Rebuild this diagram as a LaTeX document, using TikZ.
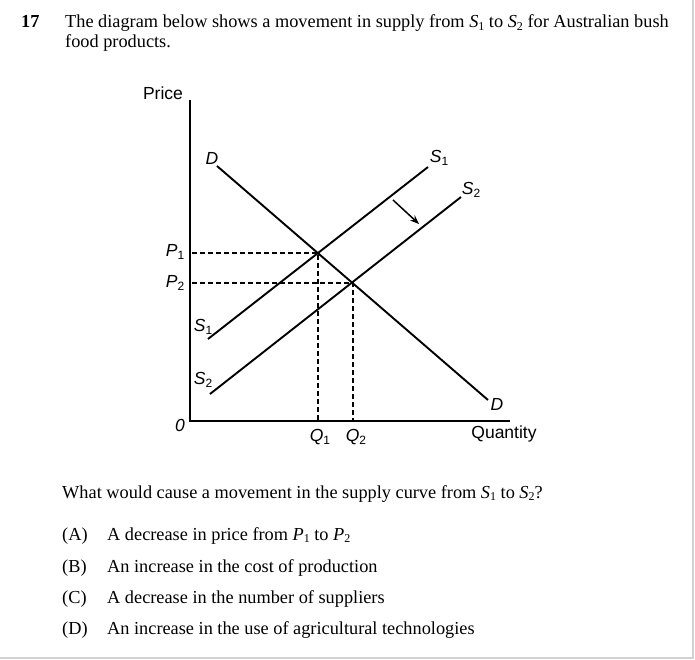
\documentclass[tikz,border=0pt]{standalone}
\usepackage{fontspec}
\setmainfont{Liberation Serif}
\setsansfont{Liberation Sans}
\usetikzlibrary{arrows.meta}
\newcommand\sub[1]{\raisebox{-0.3ex}{\fontsize{12}{12}\selectfont #1}}
\newcommand\tsub[1]{\raisebox{-0.25ex}{\fontsize{12}{12}\selectfont #1}}
\begin{document}
\begin{tikzpicture}[x=1pt,y=-1pt,
  txt/.style={font=\fontsize{18.3}{20}\selectfont,inner sep=0pt,anchor=base west},
  lab/.style={font=\sffamily\fontsize{17.5}{18}\selectfont,inner sep=0pt},
  curve/.style={line width=1.9pt},
  axis/.style={line width=2.2pt},
  guide/.style={line width=1.6pt,dash pattern=on 5pt off 3pt}]
\useasboundingbox (0,0) rectangle (695,660);
\draw[gray!35,line width=1.5pt] (693,0) -- (693,658) -- (0,658);
% header text
\node[txt,font=\bfseries\fontsize{18.3}{20}\selectfont] (num) at (21,28) {17};
\node[txt] (l1) at (65,28) {The diagram below shows a movement in supply from \textit{S}\tsub{1} to \textit{S}\tsub{2} for Australian bush};
\node[txt] (l2) at (65,48) {food products.};
% axes
\coordinate (top) at (190,100);
\coordinate (org) at (190,421);
\coordinate (xend) at (510,421);
\draw[axis] (top) -- (org) -- (xend);
% equilibrium points
\coordinate (E1) at (318,253);
\coordinate (E2) at (353,283);
\coordinate (P1a) at (192,253);
\coordinate (P2a) at (192,283);
\coordinate (Q1a) at (318,420);
\coordinate (Q2a) at (353,420);
\draw[guide] (P1a) -- (E1) -- (Q1a);
\draw[guide] (P2a) -- (E2) -- (Q2a);
% curves
\coordinate (Ds) at (217,166);
\coordinate (De) at (488,400);
\coordinate (S1s) at (208,339);
\coordinate (S1e) at (428,167);
\coordinate (S2s) at (210,394);
\coordinate (S2e) at (461,197);
\draw[curve] (Ds) -- (De);
\draw[curve] (S1s) -- (S1e);
\draw[curve] (S2s) -- (S2e);
% shift arrow
\coordinate (ar1) at (393,200);
\coordinate (ar2) at (419,224);
\draw[line width=1.5pt,-{Stealth[length=9pt,width=7pt]}] (ar1) -- (ar2);
% labels
\node[lab] (price) at (163,93) {Price};
\node[lab] (quant) at (504,434) {Quantity};
\node[lab] (zero) at (180,425) {\itshape 0};
\node[lab] (P1) at (175,252) {\textit{P}\sub{1}};
\node[lab] (P2) at (175,283) {\textit{P}\sub{2}};
\node[lab] (Q1) at (320,437) {\textit{Q}\sub{1}};
\node[lab] (Q2) at (356,437) {\textit{Q}\sub{2}};
\node[lab] (Dt) at (212,158) {\itshape D};
\node[lab] (Db) at (497,404) {\itshape D};
\node[lab] (S1t) at (439,158) {\textit{S}\sub{1}};
\node[lab] (S2t) at (471,190) {\textit{S}\sub{2}};
\node[lab] (S1l) at (203,327) {\textit{S}\sub{1}};
\node[lab] (S2l) at (203,380) {\textit{S}\sub{2}};
% question
\node[txt] (q) at (62,498) {What would cause a movement in the supply curve from \textit{S}\tsub{1} to \textit{S}\tsub{2}?};
\node[txt] (oA) at (62,540) {(A)};
\node[txt] (tA) at (107,540) {A decrease in price from \textit{P}\tsub{1} to \textit{P}\tsub{2}};
\node[txt] (oB) at (62,572) {(B)};
\node[txt] (tB) at (107,572) {An increase in the cost of production};
\node[txt] (oC) at (62,603) {(C)};
\node[txt] (tC) at (107,603) {A decrease in the number of suppliers};
\node[txt] (oD) at (62,634) {(D)};
\node[txt] (tD) at (107,634) {An increase in the use of agricultural technologies};
\end{tikzpicture}
\end{document}
